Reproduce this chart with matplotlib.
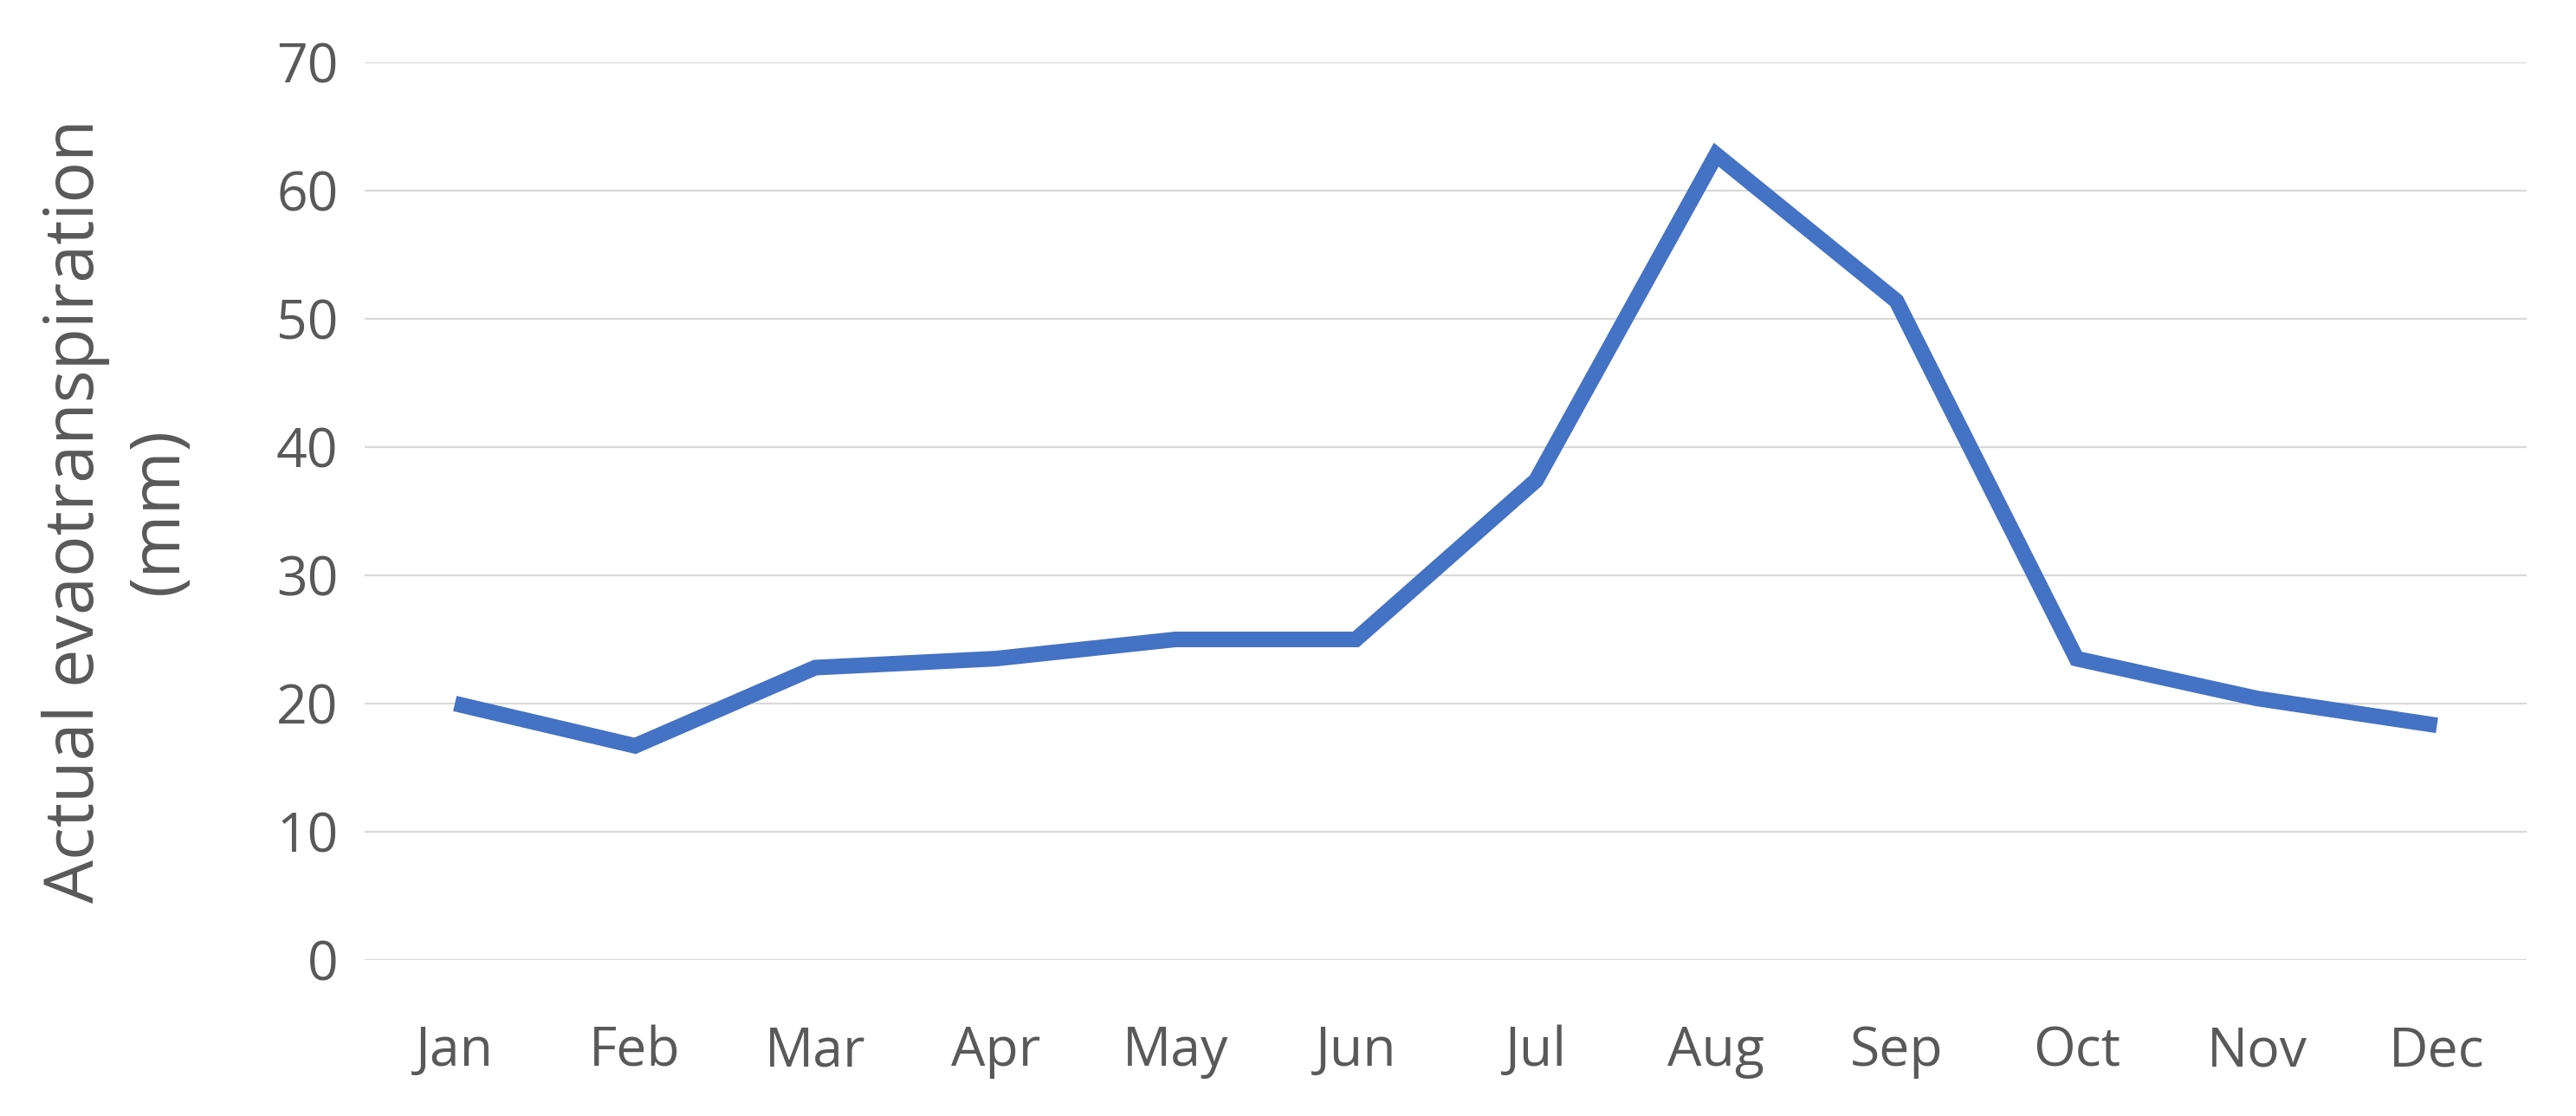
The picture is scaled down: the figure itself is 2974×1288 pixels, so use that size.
import matplotlib
matplotlib.use("Agg")
import matplotlib.pyplot as plt

meses = ["Jan", "Feb", "Mar", "Apr", "May", "Jun",
         "Jul", "Aug", "Sep", "Oct", "Nov", "Dec"]
evapotranspiracao = [20.0, 16.7, 22.8, 23.5, 25.0, 25.0,
                     37.4, 62.8, 51.4, 23.5, 20.4, 18.3]
ticks_y = [0, 10, 20, 30, 40, 50, 60, 70]

COR_LINHA = "#4472C4"
COR_TEXTO = "#595959"
COR_GRADE = "#D9D9D9"

plt.rcParams["font.family"] = ["Open Sans", "DejaVu Sans"]

fig = plt.figure(figsize=(29.74, 12.88), dpi=100)
ax = fig.add_axes([0.1416, 0.1398, 0.8394, 0.8043])

x = list(range(len(meses)))
ax.plot(x, evapotranspiracao, color=COR_LINHA, linewidth=13,
        solid_joinstyle="miter", solid_capstyle="butt", zorder=3)

ax.set_xlim(-0.5, len(meses) - 0.5)
ax.set_ylim(0, 70)
ax.set_yticks(ticks_y)
ax.set_xticks(x)
ax.set_xticklabels(meses)

ax.grid(axis="y", color=COR_GRADE, linewidth=1.6)
ax.set_axisbelow(True)
for lado in ax.spines.values():
    lado.set_visible(False)

ax.tick_params(axis="both", length=0, labelsize=45, labelcolor=COR_TEXTO)
ax.tick_params(axis="y", pad=22)
ax.tick_params(axis="x", pad=54)

ax.set_ylabel("Actual evaotranspiration\n(mm)", fontsize=57,
              color=COR_TEXTO, linespacing=1.3)
ax.yaxis.set_label_coords(-0.079, 0.5)

fig.savefig("out.png", dpi=100)
